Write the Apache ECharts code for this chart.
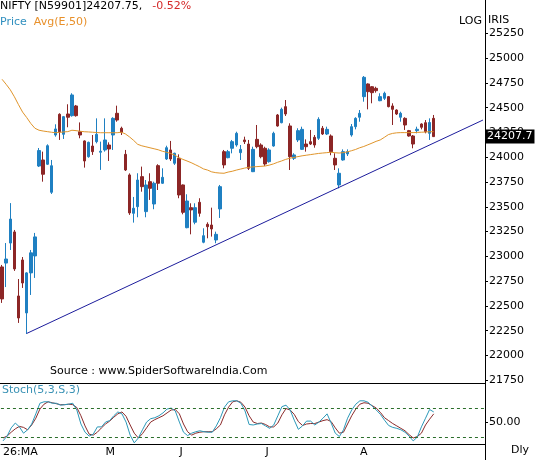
<!DOCTYPE html>
<html><head><meta charset="utf-8">
<script src="https://cdn.jsdelivr.net/npm/echarts@6/dist/echarts.min.js"></script>
<style>html,body{margin:0;padding:0;background:#fff}#c{width:535px;height:460px}</style>
</head><body><div id="c"></div>
<script>
// ---- data ----
const opens = [22893,22932,23134,23246,22600,22963,22429,22833,23004,23911,
 23972,23929,23646,24224,24433,24231,24436,24419,24517,24257,
 24164,24005,24113,24157,24050,24073,24123,24224,24443,24292,
 24029,23821,23434,23501,23804,23451,23753,23528,23915,23737,
 23982,24073,23939,23989,23720,23289,23491,23344,23545,23142,
 23323,23316,23165,23478,24056,23995,24090,24123,24046,24174,
 24133,23854,24180,24123,24090,23955,24113,24426,24348,24510,
 24315,23989,24174,24079,24133,24157,24201,24191,24292,24234,
 24214,23989,23720,23972,24033,24224,24308,24403,24611,24739,
 24711,24695,24570,24594,24611,24517,24476,24403,24392,24268,
 24214,24268,24335,24348,24241,24392];
const closes = [22570,22973,23376,22873,22378,22731,22833,23035,23196,24067,
 23828,24116,23914,24285,24257,24409,24403,24628,24419,24224,
 23962,24150,24056,24231,24060,24174,24083,24392,24375,24251,
 23871,23438,23485,23770,23703,23720,23686,23737,23737,23797,
 24096,23982,24040,23619,23444,23558,23468,23491,23434,23208,
 23299,23276,23222,23703,23922,24056,24157,24241,24079,24157,
 23888,24079,24106,24005,23932,24073,24241,24315,24483,24436,
 24005,24023,24268,24281,24106,24133,24123,24382,24234,24281,
 24056,23922,23838,24056,24056,24308,24392,24443,24806,24661,
 24651,24671,24611,24645,24510,24483,24436,24443,24325,24214,
 24133,24282,24302,24257,24350,24207.75];
const lows = [22530,22690,23064,22853,22328,22681,22217,22610,22782,23901,
 23753,23922,23629,24207,24174,24184,24302,24409,24409,24191,
 23895,23995,24023,24140,23872,24056,23962,24073,24358,24224,
 23861,23418,23340,23394,23652,23394,23569,23475,23669,23730,
 23972,23962,23922,23586,23424,23283,23222,23323,23400,23132,
 23182,23199,23132,23387,23888,23989,24039,24106,23972,24133,
 23871,23850,24090,23989,23912,23945,24106,24308,24342,24416,
 23871,23972,24153,24073,24056,24123,24096,24174,24224,24224,
 24020,23871,23686,23965,24012,24207,24281,24358,24560,24483,
 24544,24651,24565,24577,24503,24325,24426,24358,24275,24207,
 24090,24241,24281,24241,24174,24204];
const highs = [22913,23134,23537,23266,22771,22993,22840,23064,23236,24093,
 24056,24130,23972,24332,24443,24416,24534,24645,24527,24351,
 24170,24157,24224,24392,24157,24392,24150,24403,24520,24308,
 24073,23837,23599,23838,23905,23770,23838,23753,23929,23888,
 24116,24164,24045,24029,23725,23626,23535,23535,23586,23283,
 23343,23491,23249,23720,24073,24073,24174,24257,24123,24207,
 24174,24106,24325,24140,24106,24090,24257,24436,24500,24577,
 24342,24040,24292,24308,24180,24275,24224,24403,24315,24308,
 24230,24040,23888,24079,24079,24335,24403,24476,24819,24745,
 24718,24711,24645,24661,24617,24544,24483,24459,24403,24275,
 24224,24308,24342,24375,24392,24426];
const ema50 = [24786,24735,24680,24610,24530,24455,24400,24340,24292,24272,
 24264,24258,24252,24247,24250,24255,24258,24272,24268,24262,
 24257,24255,24252,24249,24247,24247,24247,24247,24247,24252,
 24235,24205,24170,24130,24115,24105,24095,24085,24075,24060,
 24050,24038,24022,23995,23978,23962,23945,23925,23905,23882,
 23870,23852,23844,23840,23838,23850,23858,23870,23880,23890,
 23898,23902,23905,23908,23911,23920,23932,23948,23962,23978,
 23989,23998,24006,24014,24020,24026,24032,24038,24042,24046,
 24050,24045,24042,24046,24054,24065,24078,24095,24108,24125,
 24142,24160,24174,24200,24228,24240,24246,24248,24248,24248,
 24248,24250,24252,24254,24257,24257];
const stochK = [12,22,39,49,41,28,35,47,68,90,
 93,93,90,90,86,87,88,90,76,47,
 30,22,26,41,41,51,54,64,72,68,
 51,24,8,18,35,51,58,60,64,70,
 78,80,74,51,30,23,28,31,33,31,
 30,30,43,60,82,93,95,95,90,74,
 46,45,47,48,43,38,45,64,83,86,
 76,55,36,43,53,53,45,51,59,68,
 49,28,21,35,59,76,88,95,95,92,
 84,76,67,55,44,40,38,35,30,22,
 12,20,41,59,77,72];
const stochD = [18,22,30,37,42,40,35,45,59,78,
 88,93,91,89,87,87,88,87,81,64,
 43,26,24,30,39,47,53,61,68,72,
 63,45,28,18,27,39,51,56,60,64,
 70,76,77,68,47,31,24,28,30,31,
 31,31,37,45,66,82,93,95,92,82,
 64,51,48,49,46,41,41,49,66,79,
 76,67,52,44,47,48,48,51,54,56,
 52,39,28,30,47,64,78,88,91,90,
 85,80,71,60,54,48,43,38,33,25,
 18,21,28,45,57,68];
const monthLabels = ['26:MA','M','J','J','A'];
const monthIndex = [0,25,43,64,87];
const priceTicks = [21750,22000,22250,22500,22750,23000,23250,23500,23750,24000,24250,24500,24750,25000,25250];
const stochTicks = [50];
const stochLevels = [80,20];
const trendStart = [6,22222];
const trendEnd = [117,24375];
const lastClose = 24207.75;
const lastCloseLabel = '24207.7';
const slots = 118;

// ---- build ----
const categories = Array.from({length: slots}, (_, i) => String(i));
const candles = opens.map((o, i) => [o, closes[i], lows[i], highs[i]]);
const FONT = 'DejaVu Sans';
const UP = '#1f80c2', DOWN = '#8c2626';
const txt = (c) => ({fontFamily: FONT, fontSize: 11, fontWeight: 'normal', color: c});

const chart = echarts.init(document.getElementById('c'), null, {renderer: 'canvas'});
chart.setOption({
  animation: false,
  backgroundColor: '#fff',
  title: [
    {left: 0, top: 1, padding: 0,
     text: '{a|NIFTY [N59901]24207.75,}{b|-0.52%}',
     textStyle: Object.assign(txt('#000'), {rich: {a: txt('#000'), b: Object.assign(txt('#d42a2a'), {padding: [0, 0, 0, 10]})}})},
    {left: 0, top: 17, padding: 0,
     text: '{a|Price}  {b|Avg(E,50)}',
     textStyle: Object.assign(txt('#000'), {rich: {a: txt('#2f8fbf'), b: txt('#e8902a')}})},
    {left: 50, top: 366, padding: 0, text: 'Source : www.SpiderSoftwareIndia.Com', textStyle: txt('#000')},
    {left: 2, top: 385, padding: 0, text: 'Stoch(5,3,S,3)', textStyle: txt('#3a92b5')},
    {left: 459, top: 16, padding: 0, text: 'LOG', textStyle: txt('#000')},
    {left: 488, top: 15, padding: 0, text: 'IRIS', textStyle: txt('#000')},
    {left: 511, top: 445, padding: 0, text: 'Dly', textStyle: txt('#000')}
  ],
  graphic: [
    {type: 'line', shape: {x1: 485.5, y1: 444, x2: 485.5, y2: 460}, style: {stroke: '#000', lineWidth: 1}}
  ],
  grid: [
    {left: 0, top: 0, width: 485, height: 383},
    {left: 0, top: 383, width: 485, height: 61}
  ],
  xAxis: [
    {type: 'category', gridIndex: 0, data: categories, boundaryGap: true,
     axisLine: {show: true, lineStyle: {color: '#000', width: 1}},
     axisTick: {show: false}, axisLabel: {show: false}, splitLine: {show: false}},
    {type: 'category', gridIndex: 1, data: categories, boundaryGap: true,
     axisLine: {show: true, lineStyle: {color: '#000', width: 1}},
     axisTick: {show: false}, splitLine: {show: false},
     axisLabel: {show: true, interval: 0, align: 'left', margin: 3,
       fontFamily: FONT, fontSize: 11, color: '#000',
       formatter: (v) => { const k = monthIndex.indexOf(Number(v)); return k >= 0 ? monthLabels[k] : ''; }}}
  ],
  yAxis: [
    {type: 'value', gridIndex: 0, position: 'right', min: 21722, max: 25586, scale: true,
     axisLine: {show: true, lineStyle: {color: '#000', width: 1}},
     axisTick: {show: true, length: 3, customValues: priceTicks, lineStyle: {color: '#000'}},
     axisLabel: {show: true, customValues: priceTicks, margin: 4, fontFamily: FONT, fontSize: 11, color: '#000',
       formatter: (v) => String(v)},
     splitLine: {show: false}},
    {type: 'value', gridIndex: 1, position: 'right', min: 5.6, max: 131.9,
     axisLine: {show: true, lineStyle: {color: '#000', width: 1}},
     axisTick: {show: true, length: 3, customValues: stochTicks, lineStyle: {color: '#000'}},
     axisLabel: {show: true, customValues: stochTicks, margin: 4, fontFamily: FONT, fontSize: 11, color: '#000',
       formatter: (v) => Number(v).toFixed(2)},
     splitLine: {show: false}}
  ],
  series: [
    {type: 'candlestick', xAxisIndex: 0, yAxisIndex: 0, data: candles, barWidth: 3,
     itemStyle: {color: UP, color0: DOWN, borderColor: UP, borderColor0: DOWN, borderWidth: 1}},
    {type: 'line', xAxisIndex: 0, yAxisIndex: 0, data: ema50, symbol: 'none', showSymbol: false,
     lineStyle: {color: '#e0952b', width: 1}, z: 3},
    {type: 'line', xAxisIndex: 0, yAxisIndex: 0, data: [trendStart, trendEnd], symbol: 'none', showSymbol: false,
     lineStyle: {color: '#1c1c9c', width: 1}, z: 4,
     markLine: {silent: true, symbol: ['none', 'none'], animation: false,
       lineStyle: {color: 'rgba(0,0,0,0)', width: 1},
       label: {show: true, position: 'end', distance: 1, formatter: lastCloseLabel,
         backgroundColor: '#000', color: '#fff', fontFamily: FONT, fontSize: 11, padding: [2, 2, 1, 1]},
       data: [{yAxis: lastClose}]}},
    {type: 'line', xAxisIndex: 1, yAxisIndex: 1, data: stochD, symbol: 'none', showSymbol: false,
     lineStyle: {color: '#8b2b2b', width: 1}},
    {type: 'line', xAxisIndex: 1, yAxisIndex: 1, data: stochK, symbol: 'none', showSymbol: false,
     lineStyle: {color: '#2b98b8', width: 1},
     markLine: {silent: true, symbol: ['none', 'none'], animation: false,
       lineStyle: {color: '#2b6e2b', type: [3, 3], width: 1},
       label: {show: false},
       data: stochLevels.map(v => ({yAxis: v}))}}
  ]
});
</script></body></html>
